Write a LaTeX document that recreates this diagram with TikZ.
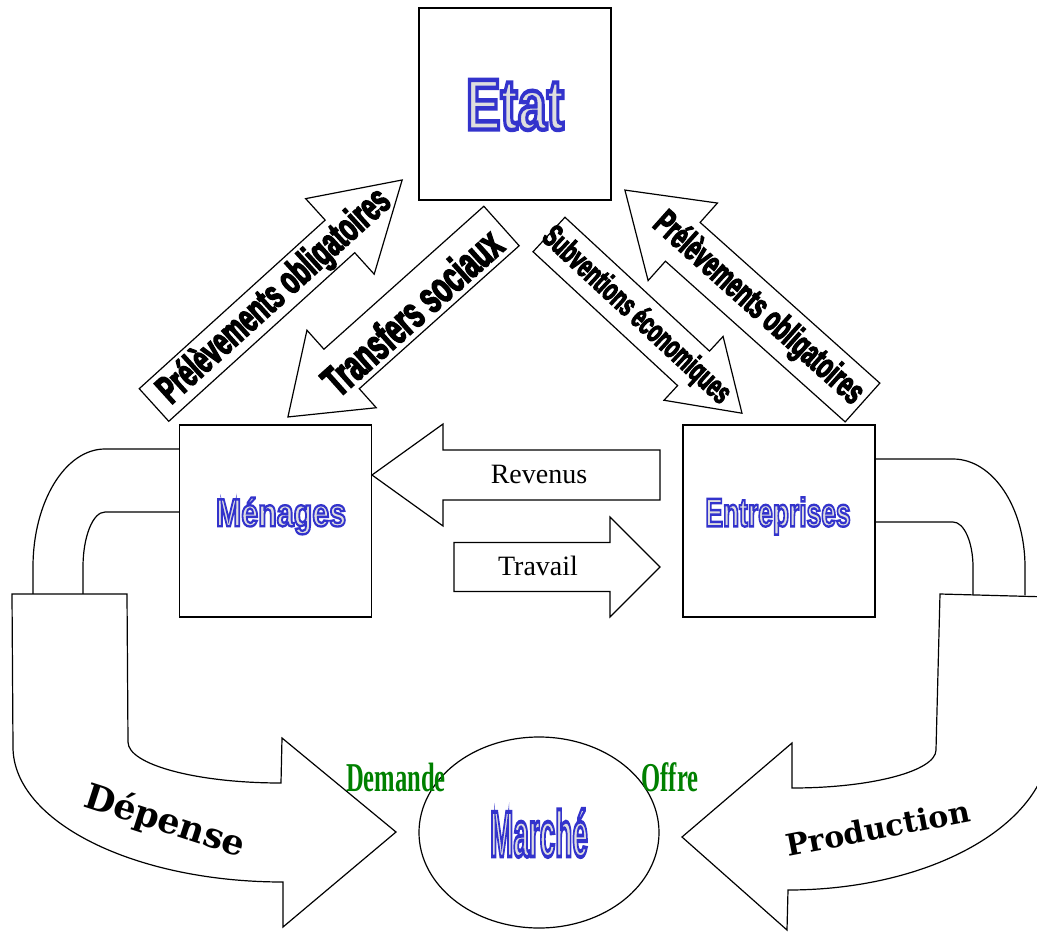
\documentclass[tikz,border=0pt]{standalone}
\usepackage{fontspec}
\usepackage{xcolor}
\usepackage{tikz}
\usetikzlibrary{shapes, arrows, positioning, calc, shapes.geometric}

\setmainfont{Liberation Serif}
\newfontfamily\titlefont[BoldFeatures={FakeBold=6}]{Liberation Sans}
\newfontfamily\flowfont[FakeStretch=0.6,FakeBold=3.5]{Liberation Sans}
\newfontfamily\curvefont{DejaVu Serif}

\definecolor{titleblue}{RGB}{51,51,204}
\definecolor{titlegrey}{RGB}{222,222,222}
\definecolor{labelgreen}{RGB}{0,128,0}

% grey letters, blue outline (stroke colour set by hand)
\newcommand{\outlined}[1]{{\color{titlegrey}\special{pdf:literal direct 0.2 0.2 0.8 RG}#1}}

\tikzset{
  box/.style={draw, line width=1.6pt, fill=white, minimum width=192pt, minimum height=192pt, inner sep=0pt},
  curve/.style={draw, line width=1.2pt, fill=white, line join=miter},
  title/.style={font=\titlefont\bfseries},
  flowtext/.style={font=\flowfont\bfseries},
  curvetext/.style={font=\curvefont\bfseries},
  marketword/.style={font=\bfseries, text=labelgreen},
  pics/blockarrow/.style n args={4}{code={
    \draw[line width=1.2pt, fill=white, line join=miter] (0,-#2) -- (#1-#4,-#2) -- (#1-#4,-#3) -- (#1,0) -- (#1-#4,#3) -- (#1-#4,#2) -- (0,#2) -- cycle;
  }},
}

\begin{document}
\begin{tikzpicture}[x=1pt, y=-1pt]
\useasboundingbox (0,0) rectangle (1037,932);
\clip (0,0) rectangle (1037,932);

% Depense / Production
\draw[line width=1.2pt] (180,449) -- (105,449) arc[start angle=270, end angle=180, x radius=72, y radius=118] -- (33,594);
\draw[line width=1.2pt] (180,512) -- (105,512) arc[start angle=270, end angle=180, x radius=22, y radius=55] -- (83,594);
\draw[curve] (12,594) -- (127,594) -- (128,742) arc[start angle=180, end angle=90, x radius=153, y radius=41] -- (282,738) -- (396,832) -- (283,927) -- (283,882) arc[start angle=90, end angle=180, x radius=270, y radius=135] -- cycle;

\draw[line width=1.2pt] (875,459) -- (953,459) arc[start angle=270, end angle=360, x radius=72, y radius=108] -- (1025,595);
\draw[line width=1.2pt] (875,522) -- (953,522) arc[start angle=270, end angle=360, x radius=20, y radius=45] -- (973,595);
\draw[curve] (940,594) -- (1050,597) -- (1050,740) arc[start angle=0, end angle=90, x radius=262, y radius=150] -- (787,930) -- (682,837) -- (792,743) -- (792,788) arc[start angle=90, end angle=0, x radius=144, y radius=38] -- cycle;

\node[curvetext, rotate=-18] (depense) at (165,822) {\fontsize{35}{35}\selectfont Dépense};
\node[curvetext, rotate=11] (production) at (878,828) {\fontsize{30}{30}\selectfont Production};

% agents
\node[box] (etat) at (515,104) {};
\node[box] (menages) at (275.5,521) {};
\node[box] (entreprises) at (779,521) {};
\node[draw, ellipse, line width=1.2pt, fill=white, minimum width=240pt, minimum height=191pt] (marche) at (539,832.5) {};

\node[title, xscale=0.72] (etat-label) at (515,105) {\fontsize{72}{72}\selectfont\outlined{Etat}};
\node[title, xscale=0.78] (menages-label) at (281,516) {\fontsize{39}{39}\selectfont\outlined{Ménages}};
\node[title, xscale=0.66] (entreprises-label) at (778,516) {\fontsize{40}{40}\selectfont\outlined{Entreprises}};
\node[title, xscale=0.43] (marche-label) at (539,833) {\fontsize{65}{65}\selectfont\outlined{Marché}};

\node[marketword, xscale=0.6] (demande) at (396,777) {\fontsize{41}{41}\selectfont Demande};
\node[marketword, xscale=0.6] (offre) at (670,777) {\fontsize{41}{41}\selectfont Offre};

% flux
\pic[rotate=42.2] at (154,405) {blockarrow={335}{22}{51}{84}};
\pic[rotate=221.8] at (501.5,226) {blockarrow={286.5}{26.5}{52}{72}};
\pic[rotate=-42.8] at (549,234.5) {blockarrow={263}{23.5}{43.5}{66}};
\pic[rotate=138.2] at (862.5,402.5) {blockarrow={318.7}{26}{52}{77.6}};
\pic[rotate=180] at (660,475) {blockarrow={288}{25}{51}{71}};
\pic at (454,567) {blockarrow={206}{24.5}{50}{50}};

\node[flowtext, rotate=42.2] (prelev-left) at (275,297) {\fontsize{40}{40}\selectfont Prélèvements obligatoires};
\node[flowtext, rotate=41.8] (transferts) at (412,312) {\fontsize{44}{44}\selectfont Transfers sociaux};
\node[flowtext, rotate=-42.8] (subventions) at (636,316) {\fontsize{32}{32}\selectfont Subventions économiques};
\node[flowtext, rotate=-41.8] (prelev-right) at (758,309) {\fontsize{36}{36}\selectfont Prélèvements obligatoires};

\node (revenus) at (539,474) {\fontsize{28}{28}\selectfont Revenus};
\node (travail) at (538,566) {\fontsize{28}{28}\selectfont Travail};
\end{tikzpicture}
\end{document}
